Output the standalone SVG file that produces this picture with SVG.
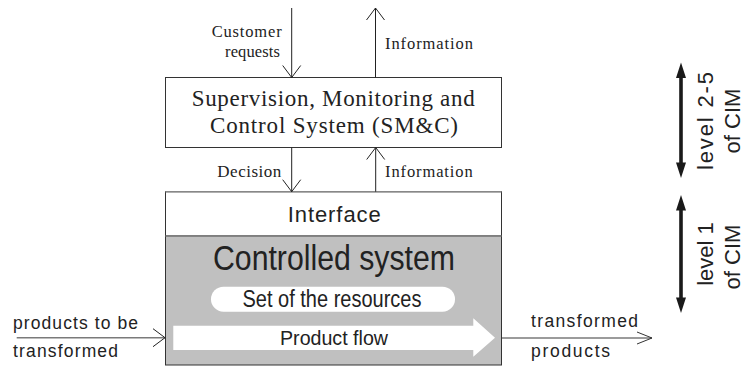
<svg xmlns="http://www.w3.org/2000/svg" width="745" height="367" viewBox="0 0 745 367">
  <style>
    .serif { font-family: "Liberation Serif", "Times New Roman", serif; fill: #222; }
    .sans { font-family: "Liberation Sans", Arial, sans-serif; fill: #222; }
    .box { stroke: #333; stroke-width: 1; }
    .wire { fill: none; stroke: #222; stroke-width: 1; }
    .flow { fill: none; stroke: #7a7a7a; stroke-width: 1.6; }
    .level { fill: #1a1a1a; }
  </style>
  <defs>
    <marker id="open" markerUnits="userSpaceOnUse" markerWidth="14" markerHeight="20" refX="12" refY="9" orient="auto" overflow="visible">
      <path d="M0,0 L12,9 L0,18" fill="none" stroke="#222" stroke-width="1"/>
    </marker>
    <marker id="openFlat" markerUnits="userSpaceOnUse" markerWidth="16" markerHeight="14" refX="15" refY="6" orient="auto" overflow="visible">
      <path d="M0,0 L15,6 L0,12" fill="none" stroke="#333" stroke-width="1"/>
    </marker>
  </defs>

  <rect width="745" height="367" fill="#fff"/>

  <!-- Supervision, Monitoring and Control System -->
  <g id="smc">
    <rect class="box" x="165.5" y="77.5" width="336" height="70" fill="#fff"/>
    <text class="serif" x="191.7" y="105.5" font-size="23" textLength="283">Supervision, Monitoring and</text>
    <text class="serif" x="210" y="132.5" font-size="23" textLength="248">Control System (SM&amp;C)</text>
  </g>

  <!-- Interface layer -->
  <g id="interface">
    <rect class="box" x="165.5" y="191.7" width="336" height="44.3" fill="#fff"/>
    <line x1="165.5" y1="191.7" x2="501.5" y2="191.7" stroke="#888" stroke-width="1.5"/>
    <text class="sans" x="287.7" y="221.7" font-size="22" textLength="93">Interface</text>
  </g>

  <!-- Controlled system -->
  <g id="controlled-system">
    <rect class="box" x="165.5" y="236" width="336" height="129" fill="#c0c0c0"/>
    <line x1="165.5" y1="236" x2="501.5" y2="236" stroke="#888" stroke-width="1.5"/>
    <text class="sans" x="213" y="270" font-size="35" textLength="242" lengthAdjust="spacingAndGlyphs">Controlled system</text>
  </g>

  <g id="resources">
    <rect x="211" y="286.7" width="244" height="25" rx="12.5" fill="#fff"/>
    <text class="sans" x="242.5" y="307" font-size="23" textLength="179" lengthAdjust="spacingAndGlyphs">Set of the resources</text>
  </g>

  <g id="product-flow">
    <path d="M173.3,325.7 H473.3 V318.3 L495,337.7 L473.3,356.7 V350 H173.3 Z" fill="#fff"/>
    <text class="sans" x="280" y="345.3" font-size="21" textLength="108" lengthAdjust="spacingAndGlyphs">Product flow</text>
  </g>

  <!-- CIM level markers -->
  <g id="level-2-5">
    <path class="level" d="M681,62.5 L686,78 L682.8,78 L682.8,162.5 L686,162.5 L681,178 L676,162.5 L679.2,162.5 L679.2,78 L676,78 Z"/>
    <text class="sans" transform="translate(713,170) rotate(-90)" font-size="22" textLength="98">level 2-5</text>
    <text class="sans" transform="translate(740,121) rotate(-90)" font-size="22" text-anchor="middle">of CIM</text>
  </g>

  <g id="level-1">
    <path class="level" d="M681,195 L686,210.5 L682.8,210.5 L682.8,297.5 L686,297.5 L681,313 L676,297.5 L679.2,297.5 L679.2,210.5 L676,210.5 Z"/>
    <text class="sans" transform="translate(713,254) rotate(-90)" font-size="22" text-anchor="middle">level 1</text>
    <text class="sans" transform="translate(740,257) rotate(-90)" font-size="22" text-anchor="middle">of CIM</text>
  </g>

  <!-- Connectors -->
  <g id="connectors">
    <line class="wire" x1="291.7" y1="8" x2="291.7" y2="77.5" marker-end="url(#open)"/>
    <line class="wire" x1="375.5" y1="77.5" x2="375.5" y2="8" marker-end="url(#open)"/>
    <line class="wire" x1="291.7" y1="147.5" x2="291.7" y2="191.7" marker-end="url(#open)"/>
    <line class="wire" x1="375.7" y1="191.7" x2="375.7" y2="147.5" marker-end="url(#open)"/>
    <line class="flow" x1="16.7" y1="337.7" x2="165" y2="337.7" marker-end="url(#open)"/>
    <line class="flow" x1="502" y1="338" x2="652" y2="338" marker-end="url(#openFlat)"/>
  </g>

  <!-- Connector labels -->
  <g id="labels">
    <text class="serif" x="211.7" y="37" font-size="16.5" textLength="70">Customer</text>
    <text class="serif" x="225" y="56.5" font-size="16.5" textLength="55">requests</text>
    <text class="serif" x="385" y="48.5" font-size="16.5" textLength="88">Information</text>
    <text class="serif" x="217.3" y="176.5" font-size="17" textLength="64">Decision</text>
    <text class="serif" x="385" y="176.5" font-size="16.5" textLength="87.7">Information</text>
    <text class="sans" x="13" y="329" font-size="17.5" textLength="125">products to be</text>
    <text class="sans" x="13" y="357" font-size="17.5" textLength="105">transformed</text>
    <text class="sans" x="531" y="327" font-size="17.5" textLength="107">transformed</text>
    <text class="sans" x="531" y="356.5" font-size="17.5" textLength="79">products</text>
  </g>
</svg>
